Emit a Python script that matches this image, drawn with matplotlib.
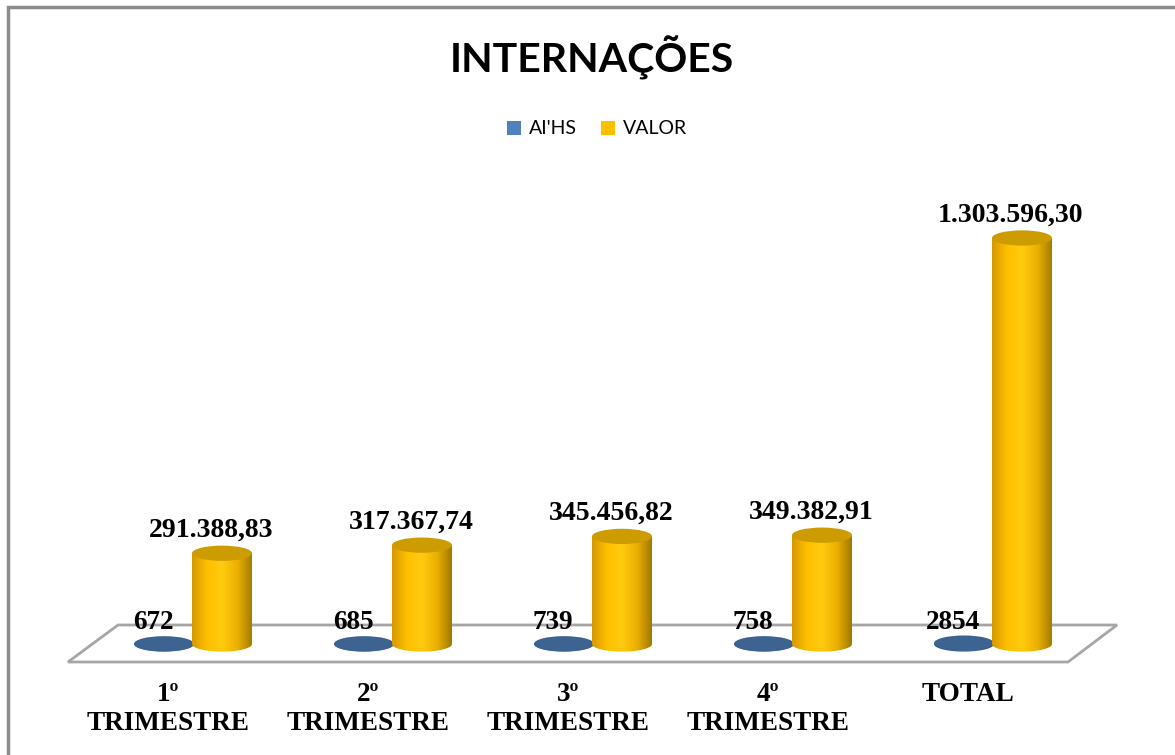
#!/usr/bin/env python3
"""INTERNAÇÕES - AIHs e valor por trimestre, colunas em cilindro."""
import numpy as np
import matplotlib
matplotlib.use("Agg")
import matplotlib.pyplot as plt
from matplotlib.patches import Ellipse, PathPatch, Patch, Rectangle, Polygon
from matplotlib.path import Path
from matplotlib.colors import LinearSegmentedColormap

CATEGORIES = ["1º\nTRIMESTRE", "2º\nTRIMESTRE", "3º\nTRIMESTRE", "4º\nTRIMESTRE", "TOTAL"]
AIHS = [672, 685, 739, 758, 2854]
VALOR = [291388.83, 317367.74, 345456.82, 349382.91, 1303596.30]
SERIES = ["AI'HS", "VALOR"]

BLUE = "#4F81BD"
GOLD = "#FFC000"
BLUE_BODY = ["#2F5079", "#3E6696", "#47709F", "#2A4870"]
GOLD_BODY = ["#D69800", "#FFC000", "#FFCB10", "#EBB000", "#A07800"]
BLUE_TOP = "#3C6392"
GOLD_TOP = "#CC9C00"

SERIF = ["Liberation Serif", "DejaVu Serif"]
SANS = ["Lato", "DejaVu Sans"]

CYL_W = 0.3        # category units
CYL_EH = 49000     # ellipse height, data units


def br_money(v):
    s = f"{v:,.2f}"
    return s.replace(",", "X").replace(".", ",").replace("X", ".")


def cylinder(ax, xc, v, body, top, z):
    cmap = LinearSegmentedColormap.from_list("body", body)
    grad = np.linspace(0, 1, 256).reshape(1, -1)
    im = ax.imshow(grad, cmap=cmap, aspect="auto", interpolation="bilinear",
                   extent=[xc - CYL_W / 2, xc + CYL_W / 2, -CYL_EH / 2, v], zorder=z)
    t = np.linspace(np.pi, 2 * np.pi, 80)
    lower = np.column_stack([xc + CYL_W / 2 * np.cos(t), CYL_EH / 2 * np.sin(t)])
    verts = [(xc - CYL_W / 2, v)] + lower.tolist() + [(xc + CYL_W / 2, v), (xc - CYL_W / 2, v)]
    clip = PathPatch(Path(verts), facecolor="none", edgecolor="none", zorder=z)
    ax.add_patch(clip)
    im.set_clip_path(clip)
    ax.add_patch(Ellipse((xc, v), CYL_W, CYL_EH, facecolor=top,
                         edgecolor="none", zorder=z + 0.1))


def main():
    fig = plt.figure(figsize=(11.75, 7.55), dpi=100)
    ax = fig.add_axes([0, 0, 1, 1])
    ax.set_axis_off()

    # floor of the 3-D plot area
    floor = Polygon([(-0.5, -57800), (4.5, -57800), (4.745, 61000), (-0.25, 61000)],
                    closed=True, facecolor="white", edgecolor="#A6A6A6", lw=2, zorder=1)
    ax.add_patch(floor)

    x = np.arange(len(CATEGORIES))
    for i in x:
        xb, xv = i - 0.02, i + 0.27
        cylinder(ax, xb, AIHS[i], BLUE_BODY, BLUE_TOP, 2 + i)
        cylinder(ax, xv, VALOR[i], GOLD_BODY, GOLD_TOP, 2.5 + i)
        ax.annotate(str(AIHS[i]), (xb, AIHS[i]), xytext=(-11, 21), textcoords="offset pixels",
                    ha="center", va="center", fontsize=19.5, fontweight="bold",
                    family=SERIF, zorder=10)
        ax.annotate(br_money(VALOR[i]), (xv, VALOR[i]), xytext=(-11, 23),
                    textcoords="offset pixels", ha="center", va="center",
                    fontsize=20, fontweight="bold", family=SERIF, zorder=10)
        ax.text(i, -122000, CATEGORIES[i], ha="center", va="top", fontsize=19.5,
                fontweight="bold", family=SERIF, linespacing=1.22)

    ax.set_xlim(-0.84, 5.035)
    ax.set_ylim(-356400, 2067750)

    fig.text(0.504, 1 - 73 / 755, "INTERNAÇÕES", ha="center", va="baseline",
             fontsize=29.5, fontweight="bold", family=SANS)

    handles = [Patch(facecolor=BLUE, edgecolor="none"), Patch(facecolor=GOLD, edgecolor="none")]
    fig.legend(handles, SERIES, loc="center", bbox_to_anchor=(0.508, 1 - 129 / 755), ncol=2,
               frameon=False, handlelength=0.75, handleheight=0.75, handletextpad=0.4,
               columnspacing=1.2, prop={"family": SANS, "size": 14})

    fig.add_artist(Rectangle((8 / 1175, -0.1), 1.2, 1 - 7 / 755 + 0.1, transform=fig.transFigure,
                             facecolor="none", edgecolor="#8C8C8C", lw=2.5))

    fig.savefig("out.png", dpi=100)


if __name__ == "__main__":
    main()
